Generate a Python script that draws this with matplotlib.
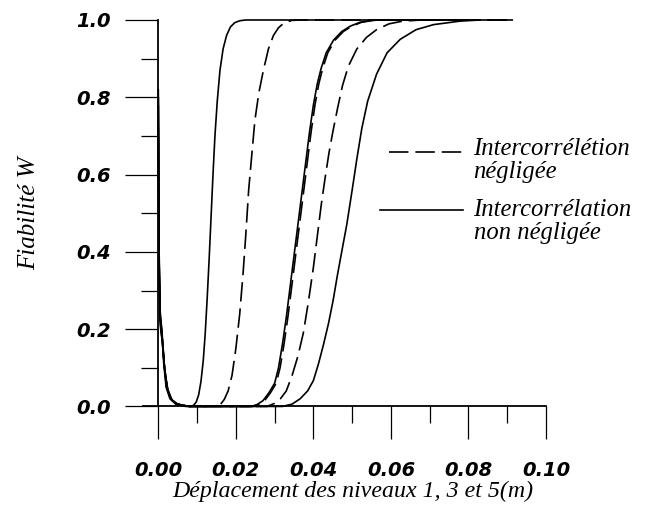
import matplotlib
matplotlib.use("Agg")
import matplotlib.pyplot as plt
from matplotlib.font_manager import FontProperties
from matplotlib.ticker import MultipleLocator, FormatStrFormatter

# Reliability curves W versus displacement of levels 1, 3 and 5
# solid: inter-correlation kept, dashed: inter-correlation neglected
solid_a_x = [0.0, 0.0002, 0.0005, 0.0009, 0.0015, 0.0022, 0.0032, 0.0047, 0.0070,
             0.0085, 0.0092, 0.0098, 0.0104, 0.0110, 0.0116, 0.0121, 0.0126, 0.0131,
             0.0136, 0.0141, 0.0146, 0.0152, 0.0159, 0.0167, 0.0176, 0.0186, 0.0197,
             0.0210, 0.0225, 0.0400, 0.0800]
solid_a_w = [0.82, 0.40, 0.24, 0.20, 0.11, 0.05, 0.02, 0.006, 0.0,
             0.0, 0.004, 0.012, 0.03, 0.065, 0.12, 0.19, 0.28, 0.38,
             0.49, 0.60, 0.70, 0.79, 0.87, 0.925, 0.96, 0.982, 0.993,
             0.998, 1.0, 1.0, 1.0]

dashed_a_x = [0.0, 0.0002, 0.0005, 0.0010, 0.0017, 0.0025, 0.0036, 0.0050, 0.0080,
              0.0150, 0.0160, 0.0170, 0.0180, 0.0190, 0.0200, 0.0210, 0.0219, 0.0226,
              0.0233, 0.0241, 0.0249, 0.0259, 0.0271, 0.0284, 0.0297, 0.0310, 0.0325,
              0.0345, 0.0370, 0.0915]
dashed_a_w = [0.70, 0.34, 0.21, 0.17, 0.09, 0.04, 0.015, 0.005, 0.0,
              0.0, 0.005, 0.018, 0.04, 0.08, 0.15, 0.24, 0.35, 0.45,
              0.56, 0.65, 0.74, 0.81, 0.87, 0.925, 0.96, 0.98, 0.993,
              0.999, 1.0, 1.0]

solid_b_x = [0.0, 0.0002, 0.0005, 0.0009, 0.0014, 0.0020, 0.0030, 0.0045, 0.0080,
             0.0240, 0.0255, 0.0270, 0.0285, 0.0300, 0.0310, 0.0320, 0.0330, 0.0340,
             0.0350, 0.0360, 0.0370, 0.0380, 0.0390, 0.0400, 0.0410, 0.0420, 0.0433,
             0.0452, 0.0473, 0.0495, 0.0520, 0.0550, 0.0580, 0.0800]
solid_b_w = [0.80, 0.38, 0.23, 0.19, 0.11, 0.05, 0.02, 0.006, 0.0,
             0.0, 0.005, 0.015, 0.035, 0.06, 0.10, 0.16, 0.23, 0.31,
             0.39, 0.47, 0.55, 0.63, 0.71, 0.78, 0.835, 0.875, 0.915,
             0.948, 0.970, 0.984, 0.994, 0.999, 1.0, 1.0]

dashed_b_x = [0.0, 0.0002, 0.0005, 0.0010, 0.0016, 0.0023, 0.0034, 0.0050, 0.0080,
              0.0244, 0.0259, 0.0274, 0.0289, 0.0304, 0.0314, 0.0324, 0.0334, 0.0344,
              0.0354, 0.0364, 0.0374, 0.0384, 0.0394, 0.0404, 0.0414, 0.0424, 0.0437,
              0.0456, 0.0477, 0.0499, 0.0524, 0.0554, 0.0585, 0.0915]
dashed_b_w = [0.72, 0.35, 0.22, 0.18, 0.10, 0.045, 0.018, 0.006, 0.0,
              0.0, 0.005, 0.015, 0.035, 0.06, 0.10, 0.16, 0.23, 0.31,
              0.39, 0.47, 0.55, 0.63, 0.71, 0.78, 0.835, 0.875, 0.915,
              0.948, 0.970, 0.984, 0.994, 0.999, 1.0, 1.0]

dashed_c_x = [0.0, 0.0002, 0.0005, 0.0010, 0.0016, 0.0024, 0.0035, 0.0050, 0.0080,
              0.0280, 0.0300, 0.0315, 0.0330, 0.0345, 0.0360, 0.0374, 0.0387, 0.0400,
              0.0410, 0.0420, 0.0430, 0.0440, 0.0450, 0.0462, 0.0475, 0.0490, 0.0512,
              0.0537, 0.0563, 0.0595, 0.0630, 0.0680, 0.0915]
dashed_c_w = [0.68, 0.33, 0.21, 0.17, 0.10, 0.045, 0.017, 0.006, 0.0,
              0.0, 0.008, 0.02, 0.04, 0.08, 0.13, 0.19, 0.27, 0.36,
              0.44, 0.52, 0.59, 0.655, 0.71, 0.77, 0.83, 0.88, 0.925,
              0.955, 0.975, 0.99, 0.997, 1.0, 1.0]

solid_c_x = [0.0, 0.0002, 0.0005, 0.0009, 0.0015, 0.0021, 0.0031, 0.0046, 0.0080,
             0.0320, 0.0345, 0.0366, 0.0385, 0.0400, 0.0413, 0.0426, 0.0439, 0.0451,
             0.0462, 0.0473, 0.0486, 0.0500, 0.0512, 0.0525, 0.0540, 0.0563, 0.0590,
             0.0624, 0.0665, 0.0710, 0.0778, 0.0830]
solid_c_w = [0.78, 0.37, 0.23, 0.19, 0.11, 0.05, 0.02, 0.006, 0.0,
             0.0, 0.006, 0.02, 0.04, 0.067, 0.11, 0.16, 0.215, 0.275,
             0.34, 0.40, 0.47, 0.56, 0.64, 0.72, 0.79, 0.86, 0.915,
             0.95, 0.975, 0.988, 0.997, 1.0]

solid_curves = [(solid_a_x, solid_a_w), (solid_b_x, solid_b_w), (solid_c_x, solid_c_w)]
dashed_curves = [(dashed_a_x, dashed_a_w), (dashed_b_x, dashed_b_w), (dashed_c_x, dashed_c_w)]

x_ticks_major = [0.00, 0.02, 0.04, 0.06, 0.08, 0.10]
y_ticks_major = [0.0, 0.2, 0.4, 0.6, 0.8, 1.0]

legend_dashed = "Intercorrélétion\nnégligée"
legend_solid = "Intercorrélation\nnon négligée"
x_label = "Déplacement des niveaux 1, 3 et 5(m)"
y_label = "Fiabilité W"

plt.rcParams["lines.scale_dashes"] = False
tick_font = FontProperties(family="DejaVu Sans", weight="bold", style="italic", size=14)
xlabel_font = dict(family="Liberation Serif", style="italic", size=17.2)
ylabel_font = dict(family="Liberation Serif", style="italic", size=18)
legend_font = dict(family="Liberation Serif", style="italic", size=17.7)

fig = plt.figure(figsize=(6.46, 5.15), dpi=100)
ax = fig.add_axes([0.2211, 0.2108, 0.6241, 0.7504])

lw = 1.2
for xs, ws in solid_curves:
    ax.plot(xs, ws, color="black", lw=lw, clip_on=False,
            solid_joinstyle="round", solid_capstyle="round")
for xs, ws in dashed_curves:
    ax.plot(xs, ws, color="black", lw=lw, dashes=(14, 5), clip_on=False)

ax.set_xlim(-0.004, 0.10)
ax.set_ylim(0.0, 1.0)

for side in ("top", "right"):
    ax.spines[side].set_visible(False)
ax.spines["left"].set_position(("data", 0.0))
ax.spines["left"].set_linewidth(1.3)
ax.spines["bottom"].set_linewidth(1.3)

ax.xaxis.set_major_locator(plt.FixedLocator(x_ticks_major))
ax.xaxis.set_minor_locator(MultipleLocator(0.01))
ax.yaxis.set_major_locator(plt.FixedLocator(y_ticks_major))
ax.yaxis.set_minor_locator(MultipleLocator(0.1))
ax.xaxis.set_major_formatter(FormatStrFormatter("%.2f"))
ax.yaxis.set_major_formatter(FormatStrFormatter("%.1f"))

ax.tick_params(axis="both", which="major", direction="out", length=24, width=0.9)
ax.tick_params(axis="both", which="minor", direction="out", length=12, width=0.9)
ax.tick_params(axis="x", which="major", pad=15)
ax.tick_params(axis="y", which="major", pad=10)
for lab in ax.get_xticklabels() + ax.get_yticklabels():
    lab.set_fontproperties(tick_font)

ax.set_xlabel(x_label, fontdict=xlabel_font)
ax.xaxis.set_label_coords(0.521, -0.192)
ax.set_ylabel(y_label, fontdict=ylabel_font, labelpad=26)

# Legend drawn beside the curves: line sample followed by a two-line caption
ax.plot([0.0594, 0.0786], [0.658, 0.658], color="black", lw=lw, dashes=(14, 5))
ax.plot([0.0573, 0.0786], [0.509, 0.509], color="black", lw=lw)
ax.text(0.0813, 0.637, legend_dashed, va="center", ha="left", linespacing=1.05,
        fontdict=legend_font)
ax.text(0.0813, 0.478, legend_solid, va="center", ha="left", linespacing=1.05,
        fontdict=legend_font)

fig.savefig("out.png", dpi=100)
